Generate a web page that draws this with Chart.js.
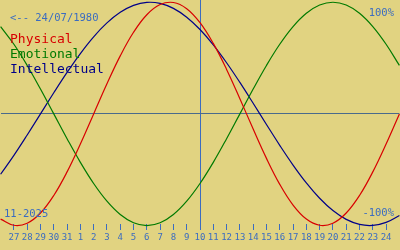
<!DOCTYPE html>
<html>
<head>
<meta charset="utf-8">
<script src="https://cdn.jsdelivr.net/npm/chart.js@4/dist/chart.umd.min.js"></script>
<style>
  html, body { margin: 0; padding: 0; background: #e1d381; }
  #wrap { width: 400px; height: 250px; position: relative; }
</style>
</head>
<body>
<div id="wrap"><canvas id="c"></canvas></div>
<script>
// Day tick labels (27 Oct 2025 .. 24 Nov 2025); today = 10
const dayLabels = ['27','28','29','30','31','1','2','3','4','5','6','7','8','9','10','11','12','13','14','15','16','17','18','19','20','21','22','23','24'];
const todayIndex = 14;
// Series values sampled daily from 26 Oct to 25 Nov (index -1 .. 29)
const physical = [-0.9423,-0.9977,-0.9791,-0.8879,-0.7308,-0.5196,-0.2698,0,0.2698,0.5196,0.7308,0.8879,0.9791,0.9977,0.9423,0.8170,0.6311,0.3984,0.1362,-0.1362,-0.3984,-0.6311,-0.8170,-0.9423,-0.9977,-0.9791,-0.8879,-0.7308,-0.5196,-0.2698,0];
const emotional = [0.7818,0.6235,0.4339,0.2225,0,-0.2225,-0.4339,-0.6235,-0.7818,-0.9010,-0.9749,-1,-0.9749,-0.9010,-0.7818,-0.6235,-0.4339,-0.2225,0,0.2225,0.4339,0.6235,0.7818,0.9010,0.9749,1,0.9749,0.9010,0.7818,0.6235,0.4339];
const intellectual = [-0.5406,-0.3717,-0.1893,0,0.1893,0.3717,0.5406,0.6901,0.8146,0.9096,0.9718,0.9989,0.9898,0.9450,0.8660,0.7557,0.6182,0.4582,0.2817,0.0951,-0.0951,-0.2817,-0.4582,-0.6182,-0.7557,-0.8660,-0.9450,-0.9898,-0.9989,-0.9718,-0.9096];
const seriesNames = ['Physical','Emotional','Intellectual'];
const seriesColors = ['#d80000','#007a00','#000088'];
const birthText = '<-- 24/07/1980';
const monthText = '11-2025';
const topText = '100%';
const bottomText = '-100%';

const blue = '#3b6cc0';
const toPts = arr => arr.map((v, i) => ({ x: i - 1, y: v }));

const textPlugin = {
  id: 'texts',
  afterDraw(chart) {
    const ctx = chart.ctx;
    ctx.save();
    ctx.textBaseline = 'alphabetic';
    ctx.font = '10.5px "DejaVu Sans Mono"';
    ctx.fillStyle = blue;
    ctx.textAlign = 'left';
    ctx.fillText(birthText, 10, 21);
    ctx.fillText(monthText, 4, 216.5);
    ctx.textAlign = 'right';
    ctx.fillText(topText, 394, 16);
    ctx.fillText(bottomText, 394, 216);
    ctx.textAlign = 'left';
    ctx.font = '13px "DejaVu Sans Mono"';
    const bases = [43, 58, 73];
    seriesNames.forEach((n, i) => {
      ctx.fillStyle = seriesColors[i];
      ctx.fillText(n, 10, bases[i]);
    });
    ctx.restore();
  }
};

new Chart(document.getElementById('c'), {
  type: 'line',
  data: {
    datasets: [
      { label: seriesNames[0], data: toPts(physical), borderColor: seriesColors[0] },
      { label: seriesNames[1], data: toPts(emotional), borderColor: seriesColors[1] },
      { label: seriesNames[2], data: toPts(intellectual), borderColor: seriesColors[2] }
    ].map(d => Object.assign(d, { borderWidth: 1.2, pointRadius: 0, tension: 0.4, fill: false, clip: false }))
  },
  options: {
    responsive: true,
    maintainAspectRatio: false,
    animation: false,
    devicePixelRatio: 1,
    layout: { padding: 0 },
    plugins: { legend: { display: false }, tooltip: { enabled: false }, title: { display: false } },
    scales: {
      x: {
        type: 'linear',
        min: -1,
        max: 29,
        afterBuildTicks: s => { s.ticks = dayLabels.map((_, i) => ({ value: i })); },
        afterFit: s => { s.height = 20; },
        border: { display: false },
        grid: {
          drawOnChartArea: true,
          drawTicks: true,
          tickLength: -6,
          tickColor: blue,
          lineWidth: 1,
          color: c => (c.tick && c.tick.value === todayIndex) ? blue : 'rgba(0,0,0,0)'
        },
        ticks: {
          padding: 8.5,
          autoSkip: false,
          maxRotation: 0,
          color: blue,
          font: { family: 'DejaVu Sans Mono', size: 9 },
          callback: v => dayLabels[v] ?? ''
        }
      },
      y: {
        min: -1.04,
        max: 1.02,
        border: { display: false },
        ticks: { display: false, stepSize: 0.5 },
        grid: {
          drawTicks: false,
          lineWidth: 1,
          color: c => (c.tick && Math.abs(c.tick.value) < 1e-9) ? '#4a6a8c' : 'rgba(0,0,0,0)'
        }
      }
    }
  },
  plugins: [textPlugin]
});
</script>
</body>
</html>
